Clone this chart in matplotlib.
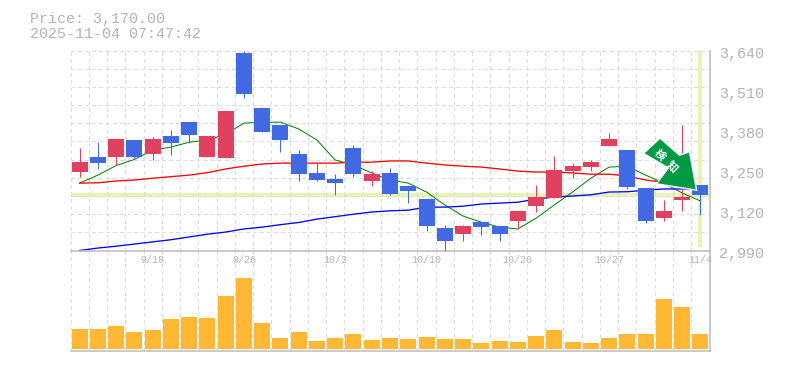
import matplotlib
matplotlib.use('Agg')
import matplotlib.pyplot as plt
import numpy as np
from matplotlib.patches import Polygon

# Price data, one entry per trading day
opens = [3245,3294,3294,3349,3303,3362,3407,3294,3290,3632,3453,3398,3303,3242,3222,3323,3216,3242,3199,3157,
         3063,3043,3082,3069,3086,3134,3160,3248,3261,3329,3316,3193,3095,3154,3203]
closes = [3277,3274,3352,3294,3352,3339,3365,3362,3443,3498,3375,3349,3238,3219,3209,3238,3238,3173,3183,3069,
          3021,3069,3066,3043,3118,3164,3251,3264,3277,3352,3196,3086,3118,3164,3170]
highs = [3323,3342,3352,3349,3359,3381,3407,3362,3443,3638,3453,3398,3316,3274,3238,3333,3248,3258,3199,3157,
         3073,3073,3082,3069,3118,3203,3297,3274,3284,3372,3316,3193,3154,3398,3203]
lows = [3229,3255,3268,3290,3284,3300,3339,3294,3290,3485,3375,3310,3216,3216,3170,3229,3199,3170,3144,3053,
        2988,3021,3040,3021,3060,3115,3160,3225,3248,3329,3190,3079,3086,3118,3105]
# Colour flag of each candle (r = up, b = down)
kinds = list("rbrbrbbrrbbbbbbbrbbbbrbbrrrrrrbbrrb")

ma_short = [3209,3235,3266,3286,3316,3326,3342,3349,3368,3404,3407,3407,3385,3349,3284,3268,3242,3219,3209,3180,
            3138,3102,3082,3066,3060,3095,3138,3180,3225,3261,3264,3235,3209,3177,3151]
ma_mid = [3209,3210,3216,3219,3225,3230,3235,3243,3255,3264,3271,3274,3274,3274,3274,3277,3277,3281,3281,3274,
          3268,3264,3261,3255,3248,3245,3245,3242,3238,3238,3232,3219,3212,3206,3196]
ma_long = [2990,2998,3004,3011,3018,3025,3034,3043,3050,3060,3066,3074,3081,3092,3100,3108,3115,3119,3121,3131,
           3131,3134,3141,3144,3147,3157,3164,3167,3171,3180,3181,3186,3190,3190,3190]
volumes = [200,200,230,170,190,300,320,310,530,710,260,110,170,80,110,150,90,110,100,120,
           100,100,60,80,70,130,190,70,60,110,150,150,500,420,150]

date_pos = [4,9,14,19,24,29,34]
date_labels = ['9/18','9/26','10/3','10/10','10/20','10/27','11/4']
price_ticks = [3640,3510,3380,3250,3120,2990]
price_labels = ['3,640','3,510','3,380','3,250','3,120','2,990']
last_price = 3170

RED = '#E0415F'
BLUE = '#4169E1'
GRID = '#DCDCDC'
AXIS = '#BBBBBB'
TEXT = '#B4B4B4'
BAND = '#E6F5AF'
MONO = 'Liberation Mono'
W, H = 785, 370
px = 0.72  # one pixel in points at dpi 100

def box(left, top, right, bottom):
    return [left/W, 1-bottom/H, (right-left)/W, (bottom-top)/H]

fig = plt.figure(figsize=(W/100, H/100), dpi=100)
ax = fig.add_axes(box(70.5, 50.5, 709.5, 250.5))
vol = fig.add_axes(box(70.5, 250.5, 709.5, 350.5))
ax.set_zorder(2)
ax.patch.set_alpha(0)
x = np.arange(len(opens))

# price panel
ax.set_xlim(-0.5, 34.5)
ax.set_ylim(2990, 3640)
ax.set_xticks(np.arange(-0.5, 35), minor=True)
ax.set_yticks(np.linspace(2990, 3640, 12), minor=True)
ax.grid(which='minor', color=GRID, lw=px, ls=(0, (3, 3)), zorder=0, antialiased=False)
ax.tick_params(which='both', length=0)
ax.set_xticks(date_pos, date_labels, family=MONO, fontsize=7.2, color=TEXT)
ax.tick_params(axis='x', which='major', pad=3.5)
ax.set_yticks([])
ax.set_yticks(np.linspace(2990, 3640, 12), minor=True)
for v, lab in zip(price_ticks, price_labels):
    ax.annotate(lab, (1, v), xycoords=ax.get_yaxis_transform(), xytext=(7, -2.5), textcoords='offset points',
                family=MONO, fontsize=10.8, color=TEXT, va='center', annotation_clip=False)
for s in ['top', 'left']:
    ax.spines[s].set_visible(False)
for s in ['right', 'bottom']:
    ax.spines[s].set_color(AXIS)
    ax.spines[s].set_linewidth(1.5*px)

ax.axhline(last_price, color=BAND, lw=4*px, zorder=1, antialiased=False)
ax.plot([34, 34], [3000, 3640], color=BAND, lw=3.5*px, zorder=1, solid_capstyle='butt', antialiased=False)

ax.plot(x, ma_short, color='#008000', lw=px, zorder=2)
ax.plot(x, ma_mid, color='#FF0000', lw=1.3*px, zorder=2)
ax.plot(x, ma_long, color='#0000FF', lw=1.3*px, zorder=2)

colors = [RED if k == 'r' else BLUE for k in kinds]
ax.vlines(x, lows, highs, colors=colors, lw=px, zorder=3)
tops = np.maximum(opens, closes)
bottoms = np.minimum(opens, closes)
ax.bar(x, tops-bottoms, bottom=bottoms, width=16/18.26, color=colors, zorder=4)

# volume panel
vol.set_xlim(-0.5, 34.5)
vol.set_ylim(-20, 980)
vol.bar(x, volumes, width=16/18.26, color='#FFB833', zorder=3)
vol.set_xticks(np.arange(-0.5, 35))
vol.set_yticks([])
vol.set_xticklabels([])
vol.grid(axis='x', color=GRID, lw=px, ls=(0, (3, 3)), zorder=0, antialiased=False)
vol.tick_params(length=0)
for s in ['top', 'left']:
    vol.spines[s].set_visible(False)
for s in ['right', 'bottom']:
    vol.spines[s].set_color(AXIS)
    vol.spines[s].set_linewidth(1.5*px)

# overlay in pixel units for the header and the signal arrow
top = fig.add_axes([0, 0, 1, 1])
top.set_zorder(5)
top.set_xlim(0, W)
top.set_ylim(H, 0)
top.axis('off')
top.text(29.5, 22.7, 'Price: 3,170.00', family=MONO, fontsize=10.8, color=TEXT, va='baseline')
top.text(29.5, 37.7, '2025-11-04 07:47:42', family=MONO, fontsize=10.8, color=TEXT, va='baseline')
arrow = [(660, 139), (644.7, 153.3), (669.3, 167.7), (657.7, 183.3), (695.7, 189.3), (689, 152.7), (679.3, 156)]
top.add_patch(Polygon(arrow, closed=True, facecolor='white', edgecolor='white', lw=3*px, alpha=0.85))
top.add_patch(Polygon(arrow, closed=True, facecolor='#009944', edgecolor='none'))
for cx, cy, ch in [(660, 155, '検'), (671.7, 166.7, '知')]:
    top.text(cx, cy, ch, family='Noto Sans CJK JP', weight='bold', fontsize=8, color='white',
             rotation=-45, ha='center', va='center', rotation_mode='anchor')

plt.savefig('out.png', dpi=100)
